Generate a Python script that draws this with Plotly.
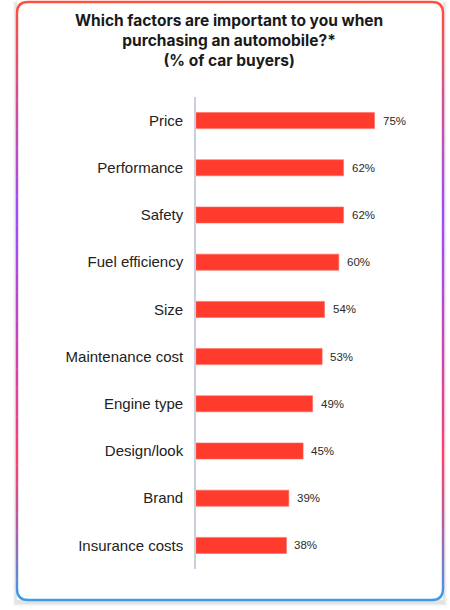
import plotly.graph_objects as go

factors = ["Price", "Performance", "Safety", "Fuel efficiency", "Size",
           "Maintenance cost", "Engine type", "Design/look", "Brand", "Insurance costs"]
share = [75, 62, 62, 60, 54, 53, 49, 45, 39, 38]

W, H = 450, 610
L, R, T, B = 196, 16, 97, 41
pw, ph = W - L - R, H - T - B


def px(x):
    return (x - L) / pw


def py(y):
    return (H - B - y) / ph


def hex2rgb(h):
    h = h.lstrip("#")
    return [int(h[i:i + 2], 16) for i in (0, 2, 4)]


def mix(stops, y):
    for (y0, c0), (y1, c1) in zip(stops, stops[1:]):
        if y0 <= y <= y1:
            t = (y - y0) / (y1 - y0)
            a, b = hex2rgb(c0), hex2rgb(c1)
            return "rgb(%d,%d,%d)" % tuple(round(a[i] + (b[i] - a[i]) * t) for i in range(3))
    return stops[-1][1]


fig = go.Figure()
fig.add_trace(go.Bar(
    x=share, y=factors, orientation="h",
    marker=dict(color="#ff3b2d", line=dict(color="#ff6a5e", width=0.6)),
    width=0.34, hoverinfo="skip",
))

for f, v in zip(factors, share):
    fig.add_annotation(x=v, y=f, text=f"{v}%", showarrow=False, xanchor="left",
                       xshift=6, font=dict(size=11.5, color="#2a2a2a", family="Liberation Sans"))

fig.add_annotation(
    text="<b>Which factors are important to you when<br>purchasing an automobile?*<br>(% of car buyers)</b>",
    xref="paper", yref="paper", x=px(229), y=py(9), xanchor="center", yanchor="top",
    showarrow=False, font=dict(size=15.5, color="#1a1a1a", family="Inter"),
)

# card: shadow, white fill, gradient border
x0, x1, y0, y1, r = 17, 443, 2, 600, 11
shapes = []
for i, a in enumerate([0.03, 0.035, 0.045]):
    d = 4 - i
    shapes.append(dict(type="rect", xref="paper", yref="paper", layer="below",
                       x0=px(x0 - d), x1=px(x1 + d), y0=py(y1 + d + 2), y1=py(y0 - d + 3),
                       fillcolor=f"rgba(0,0,0,{a})", line=dict(width=0)))
shapes.append(dict(type="rect", xref="paper", yref="paper", layer="below",
                   x0=px(x0), x1=px(x1), y0=py(y1), y1=py(y0),
                   fillcolor="white", line=dict(width=0)))

stops = [(y0, "#ff4f3f"), (40, "#f0505a"), (215, "#9c4bff"), (330, "#c444c0"),
         (460, "#ff3d6e"), (540, "#a066b0"), (y1, "#3d9ce8")]
lw = 2.4
n = 60
for side in (x0, x1):
    for k in range(n):
        ya = y0 + r + (y1 - y0 - 2 * r) * k / n
        yb = y0 + r + (y1 - y0 - 2 * r) * (k + 1) / n
        shapes.append(dict(type="line", xref="paper", yref="paper", layer="below",
                           x0=px(side), x1=px(side), y0=py(ya), y1=py(yb + 0.3),
                           line=dict(color=mix(stops, (ya + yb) / 2), width=lw)))

top = "#ff4f3f"
bot = "#3d9ce8"
shapes.append(dict(type="path", xref="paper", yref="paper", layer="below",
                   path=f"M {px(x0)},{py(y0 + r)} Q {px(x0)},{py(y0)} {px(x0 + r)},{py(y0)} "
                        f"L {px(x1 - r)},{py(y0)} Q {px(x1)},{py(y0)} {px(x1)},{py(y0 + r)}",
                   line=dict(color=top, width=lw)))
shapes.append(dict(type="path", xref="paper", yref="paper", layer="below",
                   path=f"M {px(x0)},{py(y1 - r)} Q {px(x0)},{py(y1)} {px(x0 + r)},{py(y1)} "
                        f"L {px(x1 - r)},{py(y1)} Q {px(x1)},{py(y1)} {px(x1)},{py(y1 - r)}",
                   line=dict(color=bot, width=lw)))

fig.update_layout(
    width=W, height=H,
    margin=dict(l=L, r=R, t=T, b=B),
    paper_bgcolor="white", plot_bgcolor="rgba(0,0,0,0)",
    showlegend=False,
    shapes=shapes,
    xaxis=dict(range=[0, 100], visible=False, fixedrange=True),
    yaxis=dict(autorange="reversed", showgrid=False, zeroline=False, fixedrange=True,
               showline=True, linecolor="#c9cfdb", linewidth=1.6,
               ticks="", ticklabelstandoff=8,
               tickfont=dict(size=15, color="#222222", family="Liberation Sans")),
    bargap=0.66,
)

# page body has a default 8px margin; drop it so the card sits at the window edge
fig.write_html("out.html", config={"displayModeBar": False},
               post_script="document.body.style.margin='0px';")
